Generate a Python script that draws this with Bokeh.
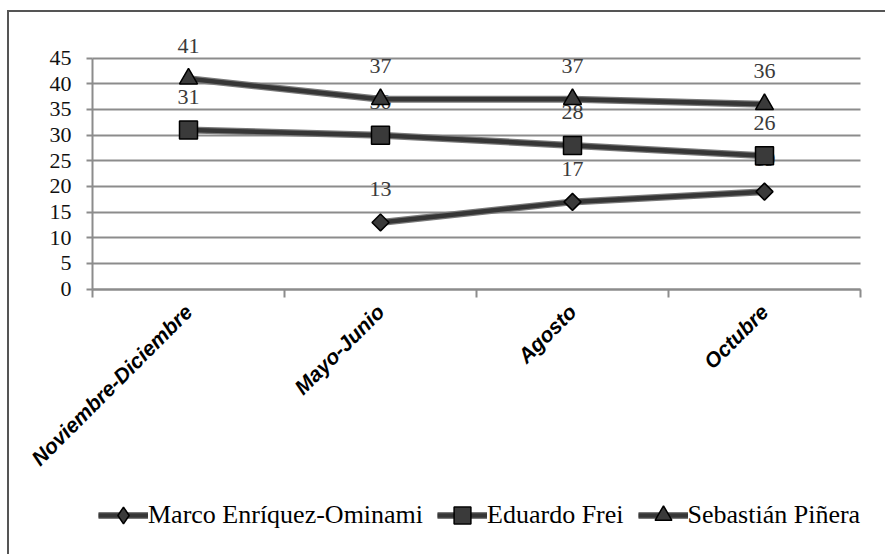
import math
from bokeh.plotting import figure
from bokeh.models import Range1d, FixedTicker, Legend, LegendItem
from bokeh.core.properties import value
from bokeh.embed import file_html
from bokeh.resources import INLINE

categories = ["Noviembre-Diciembre", "Mayo-Junio", "Agosto", "Octubre"]
series_names = ["Marco Enríquez-Ominami", "Eduardo Frei", "Sebastián Piñera"]
marco = [None, 13, 17, 19]
frei = [31, 30, 28, 26]
pinera = [41, 37, 37, 36]
y_ticks = [0, 5, 10, 15, 20, 25, 30, 35, 40, 45]

GRID = "#8c8c8c"
LINE_DARK = "#363636"
LINE_EDGE = "#7a7a7a"
MARK_FILL = "#3a3a3a"
SERIF = "Liberation Serif"

# layout constants (pixels)
CAT_PX = 192          # width of one category band
LEFT_PAD_PX = 83      # room left of the value axis (tick labels)
RIGHT_PAD_PX = 25
UNIT_PX = 231 / 45    # pixels per value unit

n = len(categories)
x_pos = [i + 0.5 for i in range(n)]
boundaries = [float(i) for i in range(n + 1)]
x_start = -LEFT_PAD_PX / CAT_PX
x_end = n + RIGHT_PAD_PX / CAT_PX
y_lo, y_hi = -51.7, 50

p = figure(frame_width=round((x_end - x_start) * CAT_PX),
           frame_height=round((y_hi - y_lo) * UNIT_PX),
           x_range=Range1d(x_start, x_end), y_range=Range1d(y_lo, y_hi),
           output_backend="svg", toolbar_location=None,
           min_border_left=0, min_border_right=0, min_border_top=20,
           min_border_bottom=0)
p.styles = {"border-left": "2px solid #555555", "border-top": "2px solid #555555",
            "margin-left": "7px", "margin-top": "10px"}
p.outline_line_color = None
p.background_fill_color = "white"
p.border_fill_color = "white"

p.xgrid.grid_line_color = None
p.ygrid.ticker = FixedTicker(ticks=y_ticks)
p.ygrid.cross_bounds = (0, n)
p.ygrid.grid_line_color = GRID
p.ygrid.grid_line_width = 2

yax = p.yaxis[0]
yax.fixed_location = 0
yax.ticker = FixedTicker(ticks=y_ticks)
yax.bounds = (y_ticks[0], y_ticks[-1])
yax.axis_line_color = GRID
yax.axis_line_width = 2
yax.major_tick_line_color = GRID
yax.major_tick_line_width = 2
yax.major_tick_out = 6
yax.major_tick_in = 0
yax.minor_tick_line_color = None
yax.major_label_text_font = SERIF
yax.major_label_text_font_size = "22px"
yax.major_label_text_color = "#111111"
yax.major_label_standoff = 15

xax = p.xaxis[0]
xax.fixed_location = 0
xax.bounds = (0, n)
xax.ticker = FixedTicker(ticks=x_pos, minor_ticks=boundaries)
xax.major_label_overrides = {x: c for x, c in zip(x_pos, categories)}
xax.major_tick_line_color = None
xax.minor_tick_line_color = GRID
xax.minor_tick_line_width = 2
xax.minor_tick_out = 8
xax.minor_tick_in = 0
xax.axis_line_color = GRID
xax.axis_line_width = 2
xax.major_label_orientation = math.pi / 4
xax.major_label_text_font = "Liberation Sans"
xax.major_label_text_font_style = "bold italic"
xax.major_label_text_font_size = "21px"
xax.major_label_text_color = "#000000"
xax.major_label_standoff = 11

series = [marco, frei, pinera]
plot_markers = [("square", math.pi / 4, 12), ("square", 0, 18), ("triangle", 0, 18)]
legend_markers = ["diamond", None, None]

def clean(vals):
    return [float("nan") if v is None else float(v) for v in vals]

# data labels (drawn first so markers/lines cover them like the original)
for vals in series:
    xs = [x for x, v in zip(x_pos, vals) if v is not None]
    ys = [v for v in vals if v is not None]
    p.text(xs, ys, text=[str(v) for v in ys], text_align="center",
           text_baseline="middle", y_offset=-33,
           text_font=value(SERIF), text_font_size="22px", text_color="#3a3a3a")

items = []
for name, vals, (mk, ang, sz), lmk in zip(series_names, series, plot_markers, legend_markers):
    ys = clean(vals)
    r_edge = p.line(x_pos, ys, line_width=7, line_color=LINE_EDGE)
    r_line = p.line(x_pos, ys, line_width=4.5, line_color=LINE_DARK)
    r_mark = p.scatter(x_pos, ys, marker=mk, angle=ang, size=sz,
                       fill_color=MARK_FILL, line_color="#000000", line_width=1.5)
    if lmk is not None:
        # key-only copy of the series with the upright marker shape of the legend
        r_mark = p.scatter(x_pos, ys, marker=lmk, size=sz, visible=False,
                           fill_color=MARK_FILL, line_color="#000000", line_width=1.5)
    items.append(LegendItem(label=name, renderers=[r_edge, r_line, r_mark]))

legend = Legend(items=items, orientation="horizontal",
                location=(round(-x_start * CAT_PX) + 6, 18),
                border_line_color=None, background_fill_alpha=0,
                inactive_fill_alpha=0,
                label_text_font=SERIF, label_text_font_size="26px",
                label_text_color="#000000",
                glyph_width=50, glyph_height=42, label_standoff=0,
                spacing=14, padding=0, margin=0)
p.add_layout(legend, "center")

open("out.html", "w").write(file_html(p, INLINE))
